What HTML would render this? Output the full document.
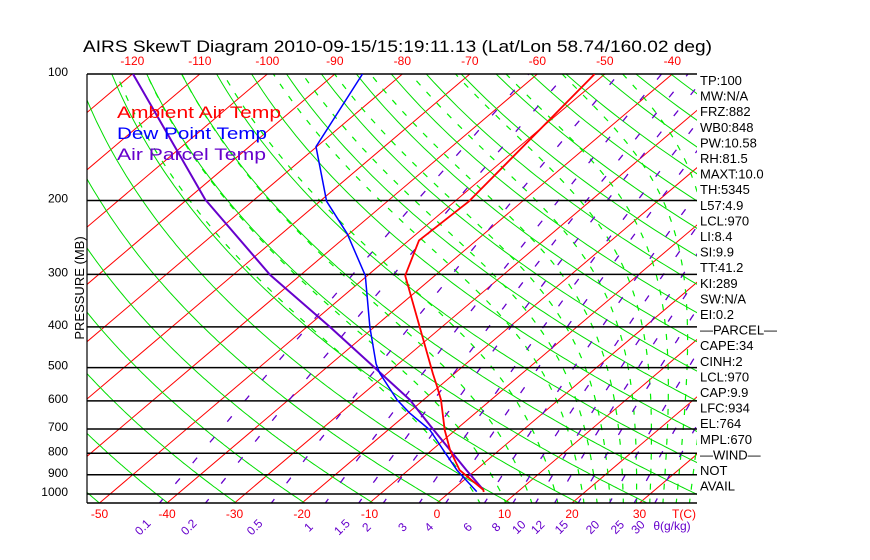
<!DOCTYPE html>
<html><head><meta charset="utf-8"><style>
html,body{margin:0;padding:0;background:#fff;}
svg{display:block;font-family:"Liberation Sans",sans-serif;}
</style></head><body>
<svg id="c" width="870" height="560" viewBox="0 0 870 560" xmlns="http://www.w3.org/2000/svg">
<defs><clipPath id="clip"><rect x="87" y="74" width="610" height="429"/></clipPath></defs>
<rect width="870" height="560" fill="#fff"/>
<text x="83" y="52" font-size="17" textLength="629" lengthAdjust="spacingAndGlyphs">AIRS SkewT Diagram 2010-09-15/15:19:11.13 (Lat/Lon 58.74/160.02 deg)</text>
<g id="bg" clip-path="url(#clip)"></g>
<g id="grid"></g>
<g id="series" clip-path="url(#clip)"></g>
<g id="labels"></g>
<text x="117" y="118" font-size="17" fill="#f00" textLength="164" lengthAdjust="spacingAndGlyphs">Ambient Air Temp</text>
<text x="117" y="139" font-size="17" fill="#00f" textLength="150" lengthAdjust="spacingAndGlyphs">Dew Point Temp</text>
<text x="117" y="160" font-size="17" fill="#60c" textLength="149" lengthAdjust="spacingAndGlyphs">Air Parcel Temp</text>
<text transform="translate(84,288) rotate(-90)" font-size="13" text-anchor="middle">PRESSURE (MB)</text>
</svg>
<script>
const pressureTicks=[100,200,300,400,500,600,700,800,900,1000];
const bottomTempTicks=[-50,-40,-30,-20,-10,0,10,20,30];
const topTempTicks=[-120,-110,-100,-90,-80,-70,-60,-50,-40];
const isotherms=[-160,-150,-140,-130,-120,-110,-100,-90,-80,-70,-60,-50,-40,-30,-20,-10,0,10,20,30,40];
const dryThetas=[200,210,220,230,240,250,260,270,280,290,300,310,320,330,340,350,360,370,380,390,400,410,420,430,440,450,460,470,480,490,500,510,520,530,540];
const moistThetaW=[4,8,12,16,20,22,24,26,28,30,32,34,36];
const mixRatios=[0.1,0.2,0.5,1,1.5,2,3,4,6,8,10,12,15,20,25,30];
const mixLabels=["0.1","0.2","0.5","1","1.5","2","3","4","6","8","10","12","15","20","25","30"];
const tempP=[100,201,249,302,518,555,597,704,786,877,978,989];
const tempT=[-51.5,-47.9,-48.5,-44.4,-23.1,-20.3,-17.4,-11.6,-7.3,-2.4,4.6,5.0];
const dewP=[100,149,201,240,302,401,490,516,597,642,704,786,877,987];
const dewT=[-85.9,-80.1,-69.0,-60.3,-50.3,-40.6,-33.3,-31.1,-23.9,-19.7,-13.8,-8.3,-2.8,3.9];
const parP=[100,199,301,400,480,597,685,786,877,978];
const parT=[-119.9,-87.3,-64.5,-46.6,-35.4,-22.0,-14.7,-7.3,-1.4,4.6];
const indices=["TP:100","MW:N/A","FRZ:882","WB0:848","PW:10.58","RH:81.5","MAXT:10.0","TH:5345","L57:4.9","LCL:970","LI:8.4","SI:9.9","TT:41.2","KI:289","SW:N/A","EI:0.2","\u2014PARCEL\u2014","CAPE:34","CINH:2","LCL:970","CAP:9.9","LFC:934","EL:764","MPL:670","\u2014WIND\u2014","NOT","AVAIL"];

const NS="http://www.w3.org/2000/svg";
function yP(p){return 494+182.4*Math.log(p/1000);}
function xT(t,p){return 437+6.75*t+1.178*(503-yP(p));}
function mk(tag,attrs,parent){const e=document.createElementNS(NS,tag);for(const k in attrs)e.setAttribute(k,attrs[k]);parent.appendChild(e);return e;}
const bg=document.getElementById('bg'),grid=document.getElementById('grid'),ser=document.getElementById('series'),lab=document.getElementById('labels');
const plevs=[];for(let p=1060;p>=95;p-=5)plevs.push(p);
function pathOf(fn){return plevs.map((p,i)=>(i?'L':'M')+xT(fn(p),p).toFixed(1)+' '+yP(p).toFixed(1)).join('');}
isotherms.forEach(t=>{const e=mk('line',{x1:xT(t,1060),y1:yP(1060),x2:xT(t,95),y2:yP(95),stroke:'#f00','stroke-width':1},bg);

});
dryThetas.forEach(th=>{const e=mk('path',{d:pathOf(p=>th*Math.pow(p/1000,0.286)-273.15),stroke:'#0d0',fill:'none','stroke-width':1},bg);

});
function es(t){return 6.112*Math.exp(17.67*t/(t+243.5));}
function moistRate(t,p){const T=t+273.15,rs=0.622*es(t)/(p-es(t)),Lv=2.5e6,Rd=287,cp=1005;
return (Rd*T+Lv*rs)/(p*(cp+Lv*Lv*rs*0.622/(Rd*T*T)));}
moistThetaW.forEach(tw=>{let t=tw;const pts={};
for(let q=1000;q<=1060;q+=1){if(q>1000){t+=moistRate(t,q);} pts[q]=t;}
t=tw;for(let q=1000;q>=95;q-=1){pts[q]=t;t-=moistRate(t,q);}
const d=plevs.map((p,i)=>(i?'L':'M')+xT(pts[p],p).toFixed(1)+' '+yP(p).toFixed(1)).join('');
const e=mk('path',{d:d,stroke:'#0e0',fill:'none','stroke-width':1.2,'stroke-dasharray':'6 9'},bg);

});
function tdOf(w,p){const e=w*p/(622+w);const l=Math.log(e/6.112);return 243.5*l/(17.67-l);}
mixRatios.forEach((w,i)=>{const e=mk('path',{d:pathOf(p=>tdOf(w,p)),stroke:'#60c',fill:'none','stroke-width':1.3,'stroke-dasharray':'7 20'},bg);


const x=xT(tdOf(w,1050),1050)-14;
const t=mk('text',{transform:`translate(${x.toFixed(1)},530) rotate(-45)`,'font-size':12,fill:'#60c','text-anchor':'middle'},lab);t.textContent=mixLabels[i];

});
pressureTicks.forEach(p=>{const y=yP(p);const l=mk('line',{x1:87,y1:y,x2:697,y2:y,stroke:'#000','stroke-width':1.5},grid);


const t=mk('text',{x:68,y:y+2,'font-size':12,'text-anchor':'end'},grid);t.textContent=p;

});
const bl=mk('line',{x1:87,y1:503,x2:697,y2:503,stroke:'#000','stroke-width':1.5},grid);


const ll=mk('line',{x1:87,y1:74,x2:87,y2:503,stroke:'#000','stroke-width':1.2},grid);


function yToP(y){return 1000*Math.exp((y-494)/182.4);}
bottomTempTicks.forEach(t=>{const e=mk('text',{x:xT(t,yToP(503)),y:518,'font-size':12,fill:'#f00','text-anchor':'middle'},lab);e.textContent=t;

});
topTempTicks.forEach(t=>{const e=mk('text',{x:xT(t,100),y:65,'font-size':12,fill:'#f00','text-anchor':'middle'},lab);e.textContent=t;

});
const tc=mk('text',{x:684,y:518,'font-size':12,fill:'#f00','text-anchor':'middle'},lab);tc.textContent='T(C)';


const gk=mk('text',{x:672,y:530,'font-size':12,fill:'#60c','text-anchor':'middle'},lab);gk.textContent='\u03b8(g/kg)';


function prof(P,T,color,w,name){const d=P.map((p,i)=>(i?'L':'M')+xT(T[i],p).toFixed(1)+' '+yP(p).toFixed(1)).join('');
const e=mk('path',{d:d,stroke:color,fill:'none','stroke-width':w,'stroke-linejoin':'round'},ser);

}
prof(parP,parT,'#60c',2,'air-parcel-temp-line');
prof(dewP,dewT,'#00f',1.5,'dew-point-line');
prof(tempP,tempT,'#f00',1.8,'ambient-temp-line');
indices.forEach((s,i)=>{const e=mk('text',{x:700,y:85+i*15.6,'font-size':13},lab);e.textContent=s;

});
</script>
</body></html>
